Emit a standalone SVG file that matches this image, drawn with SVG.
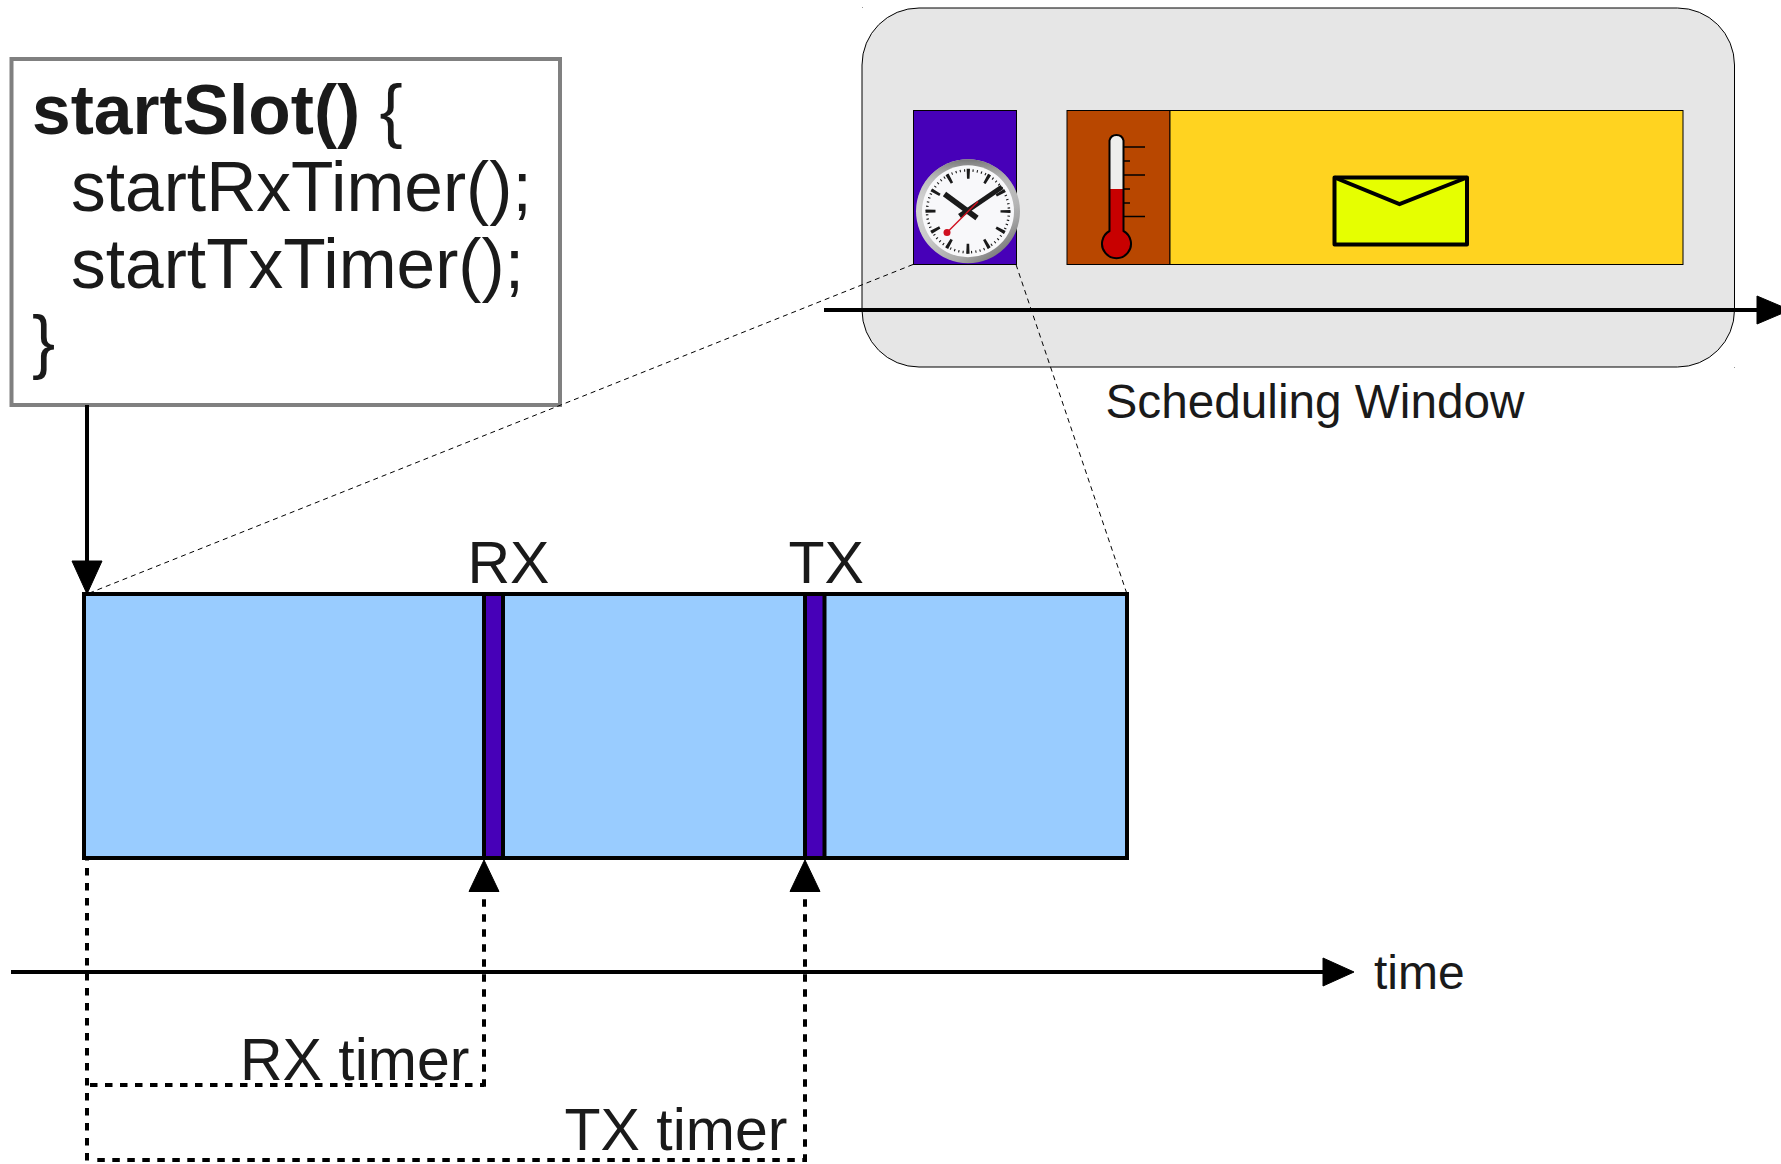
<svg xmlns="http://www.w3.org/2000/svg" width="1781" height="1164" viewBox="0 0 1781 1164">
<style>
text{font-family:"Liberation Sans",Arial,sans-serif;fill:#1a1a1a}
.big{font-size:69.5px}
.mid{font-size:59px}
.sm{font-size:48px}
.ln{fill:none;stroke:#000;stroke-width:4}
.dash{fill:none;stroke:#000;stroke-width:4;stroke-dasharray:7.5 7.5}
.thin{fill:none;stroke:#000;stroke-width:1;stroke-dasharray:5 4}
.cell{stroke:#000;stroke-width:1}
.purple{fill:#4700b8}
.bar{fill:#4700b8;stroke:#000;stroke-width:4}
</style>
<defs>
<linearGradient id="bezel" x1="0.1" y1="0.2" x2="0.7" y2="1">
<stop offset="0" stop-color="#d8d8d8"/><stop offset="0.45" stop-color="#c9c9c9"/><stop offset="0.8" stop-color="#a8a8a8"/><stop offset="1" stop-color="#7a7a7a"/>
</linearGradient>
<linearGradient id="bezelTop" x1="0" y1="0" x2="0" y2="1">
<stop offset="0" stop-color="#777"/><stop offset="0.2" stop-color="#aaa" stop-opacity="0.6"/><stop offset="0.5" stop-color="#ccc" stop-opacity="0"/>
</linearGradient>
</defs>

<g id="scheduling-window">
<rect x="862" y="8" width="872.5" height="359" rx="57" ry="57" fill="#e6e6e6" stroke="#000" stroke-width="1"/>
<rect x="862" y="7" width="1" height="1" fill="#999"/>
<rect x="1734" y="367" width="1" height="1" fill="#999"/>
<text class="sm" x="1105.500" y="418" textLength="419" lengthAdjust="spacingAndGlyphs">Scheduling Window</text>
</g>

<g id="code-box">
<rect x="11.500" y="59" width="548.500" height="346" fill="#fff" stroke="#808080" stroke-width="4"/>
<text class="big" x="32" y="134"><tspan font-weight="700">startSlot()</tspan> {</text>
<text class="big" x="71" y="211">startRxTimer();</text>
<text class="big" x="71" y="288">startTxTimer();</text>
<text class="big" x="32" y="365">}</text>
</g>

<g id="connectors">
<path class="thin" d="M913 264.500L87 594"/>
<path class="thin" d="M1016 264.500L1127 594"/>
<path class="ln" d="M87 405V565"/>
<polygon points="72,561 102,561 87,594" fill="#000" stroke="#000" stroke-width="1" stroke-linejoin="round"/>
<path class="ln" d="M824 310H1760"/>
<polygon points="1757,296 1757,324 1790,310" fill="#000" stroke="#000" stroke-width="1" stroke-linejoin="round"/>
<path class="ln" d="M11 972H1326"/>
<polygon points="1323,958 1323,986 1354,972" fill="#000" stroke="#000" stroke-width="1" stroke-linejoin="round"/>
<path class="dash" d="M87 853V1161"/>
<path class="dash" d="M90 1085H484"/>
<path class="dash" d="M97.300 1160H807"/>
<path class="dash" d="M484 899.300V1087"/>
<path class="dash" d="M805 899.300V1162"/>
<polygon points="469,891.500 499,891.500 484,860" fill="#000" stroke="#000" stroke-width="1" stroke-linejoin="round"/>
<polygon points="790,891.500 820,891.500 805,860" fill="#000" stroke="#000" stroke-width="1" stroke-linejoin="round"/>
</g>

<g id="slot-purple"><rect class="cell purple" x="913.500" y="110.500" width="103" height="154"/></g>
<g id="slot-brown"><rect class="cell" x="1067" y="110.500" width="103" height="154" fill="#b84700"/></g>
<g id="slot-yellow"><rect class="cell" x="1170" y="110.500" width="513" height="154" fill="#ffd320"/></g>

<g id="thermometer">
<path d="M1124 147H1145M1124 161H1130M1124 175H1145M1124 189H1130M1124 203H1130M1124 216.500H1145" fill="none" stroke="#000" stroke-width="1.500"/>
<path d="M1109.500 231V140.500A7.200 7.200 0 0 1 1123.500 140.500V231A14.500 14.500 0 1 1 1109.500 231Z" fill="#eeeeec"/>
<path d="M1109.500 189H1123.500V231A14.500 14.500 0 1 1 1109.500 231Z" fill="#c80000"/>
<path d="M1109.500 231V140.500A7.200 7.200 0 0 1 1123.500 140.500V231A14.500 14.500 0 1 1 1109.500 231Z" fill="none" stroke="#000" stroke-width="2"/>
</g>

<g id="clock">
<circle cx="968" cy="211.300" r="52" fill="url(#bezel)"/>
<circle cx="968" cy="211.300" r="52" fill="url(#bezelTop)"/>
<circle cx="968" cy="211.300" r="46" fill="#f8f8fa"/>
<circle cx="968" cy="211.300" r="41" fill="none" stroke="#1a1a1a" stroke-width="2.500" stroke-dasharray="1.100 3.193"/>
<circle cx="968" cy="211.300" r="37.500" fill="none" stroke="#1a1a1a" stroke-width="10" stroke-dasharray="3 16.635" stroke-dashoffset="1.500"/>
<path d="M977 218L944.500 194" stroke="#1a1a1a" stroke-width="5.500" fill="none"/>
<path d="M959.500 216L1002 187" stroke="#1a1a1a" stroke-width="5" fill="none"/>
<path d="M978 201.500L947 232.500" stroke="#d01020" stroke-width="1.400" fill="none"/>
<circle cx="947" cy="232.500" r="3.500" fill="#d01020"/>
</g>

<g id="envelope">
<path d="M1334.500 177.500H1467V244.500H1334.500Z" fill="#e6ff00" stroke="#000" stroke-width="4" stroke-linejoin="round"/>
<path d="M1334.500 177.500L1399.500 204L1467 177.500" fill="none" stroke="#000" stroke-width="4"/>
</g>

<g id="slot-bar">
<rect x="84" y="594" width="1043" height="264" fill="#99ccff" stroke="#000" stroke-width="4"/>
<rect class="bar" x="484" y="594" width="19" height="264"/>
<rect class="bar" x="805" y="594" width="19.500" height="264"/>
</g>

<g id="labels">
<text class="mid" x="467.500" y="582.500">RX</text>
<text class="mid" x="788.500" y="582.500">TX</text>
<text class="sm" x="1374" y="989">time</text>
<text class="mid" x="240" y="1080">RX timer</text>
<text class="mid" x="564.500" y="1150">TX timer</text>
</g>
</svg>
